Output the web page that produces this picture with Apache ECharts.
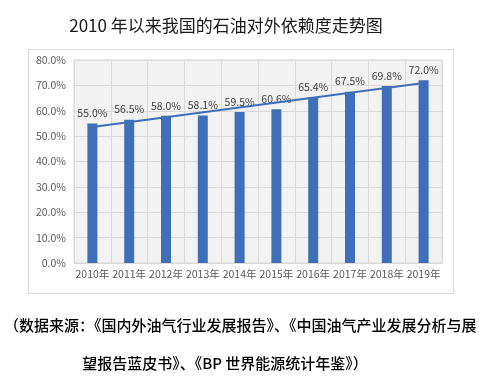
<!DOCTYPE html>
<html><head><meta charset="utf-8">
<script src="https://cdn.jsdelivr.net/npm/echarts@6/dist/echarts.min.js"></script>
<style>html,body{margin:0;padding:0;background:#fff}#c{width:494px;height:386px}</style>
</head><body><div id="c"></div>
<script>
const titleText = '2010 年以来我国的石油对外依赖度走势图';
const categories = ['2010年','2011年','2012年','2013年','2014年','2015年','2016年','2017年','2018年','2019年'];
const values = [55.0, 56.5, 58.0, 58.1, 59.5, 60.6, 65.4, 67.5, 69.8, 72.0];
const trendEnds = [53.6, 70.9];
const yTicks = [0, 10, 20, 30, 40, 50, 60, 70, 80];
const sourceLine1 = '（数据来源：《国内外油气行业发展报告》、《中国油气产业发展分析与展';
const sourceLine2 = '望报告蓝皮书》、《BP 世界能源统计年鉴》）';

const FONT = '"Noto Sans CJK SC", "Noto Sans", sans-serif';
const chart = echarts.init(document.getElementById('c'), null, {renderer: 'canvas'});
chart.setOption({
  animation: false,
  backgroundColor: '#fff',
  textStyle: {fontFamily: FONT},
  grid: {left: 74, right: 52, top: 60, bottom: 123, show: true, backgroundColor: '#f2f2f2', borderColor: '#d9d9d9', borderWidth: 1},
  xAxis: {
    type: 'category', data: categories, boundaryGap: true,
    axisLine: {lineStyle: {color: '#d9d9d9'}},
    axisTick: {show: false},
    splitLine: {show: true, lineStyle: {color: '#d9d9d9'}},
    axisLabel: {color: '#595959', fontSize: 10.5, margin: 6, fontFamily: FONT, interval: 0}
  },
  yAxis: {
    type: 'value', min: yTicks[0], max: yTicks[yTicks.length - 1], interval: 10,
    axisLine: {show: false}, axisTick: {show: false},
    splitLine: {lineStyle: {color: '#d9d9d9'}},
    axisLabel: {color: '#595959', fontSize: 10.5, margin: 8, fontFamily: FONT,
      formatter: v => v.toFixed(1) + '%'}
  },
  series: [
    {type: 'bar', data: values, barWidth: 10, itemStyle: {color: '#3f6fb6'},
      label: {show: true, position: 'top', distance: 5, color: '#404040', fontSize: 10.5, fontFamily: FONT,
        formatter: p => p.value.toFixed(1) + '%'}, z: 2},
    {type: 'line', data: [[categories[0], trendEnds[0]], [categories[categories.length - 1], trendEnds[1]]],
      symbol: 'none', lineStyle: {color: '#3f6fb6', width: 2}, z: 3, silent: true}
  ],
  graphic: [
    {type: 'rect', shape: {x: 28.5, y: 49.5, width: 425, height: 244}, style: {fill: 'none', stroke: '#d9d9d9', lineWidth: 1}, z: -1},
    {type: 'text', x: 226, y: 26, style: {text: titleText, fill: '#1a1a1a', font: '17px ' + FONT, textAlign: 'center', textVerticalAlign: 'middle'}},
    {type: 'text', x: 4, y: 325, style: {text: sourceLine1, fill: '#000', font: '500 15px ' + FONT, textAlign: 'left', textVerticalAlign: 'middle'}},
    {type: 'text', x: 225, y: 363, style: {text: sourceLine2, fill: '#000', font: '500 15px ' + FONT, textAlign: 'center', textVerticalAlign: 'middle'}}
  ]
});
</script></body></html>
